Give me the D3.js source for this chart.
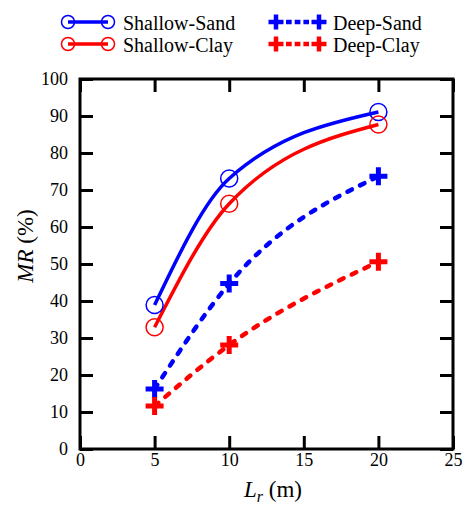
<!DOCTYPE html>
<html>
<head>
<meta charset="utf-8">
<script src="https://cdn.jsdelivr.net/npm/d3@7"></script>
<style>
  html, body { margin: 0; padding: 0; background: #fff; }
  svg { display: block; }
</style>
</head>
<body>
<svg id="chart" width="467" height="507"></svg>
<script>
// Lr (m) at which MR was evaluated
const lengths = [5, 10, 20];

// MR (%) per case
const shallowSand = [38.9, 73.1, 91.1];
const shallowClay = [32.9, 66.3, 87.7];
const deepSand = [16.2, 44.7, 73.7];
const deepClay = [11.6, 28.1, 50.6];

const seriesNames = ["Shallow-Sand", "Shallow-Clay", "Deep-Sand", "Deep-Clay"];

// Axis ticks
const xTicks = [0, 5, 10, 15, 20, 25];
const yTicks = [0, 10, 20, 30, 40, 50, 60, 70, 80, 90, 100];

const FONT = "'Liberation Serif', 'Times New Roman', Times, 'DejaVu Serif', serif";

const series = [
  { name: seriesNames[0], values: shallowSand, color: "#0000ff", marker: "circle", dashed: false },
  { name: seriesNames[1], values: shallowClay, color: "#ff0000", marker: "circle", dashed: false },
  { name: seriesNames[2], values: deepSand, color: "#0000ff", marker: "plus", dashed: true },
  { name: seriesNames[3], values: deepClay, color: "#ff0000", marker: "plus", dashed: true }
];

const svg = d3.select("#chart");
const plot = { left: 80, right: 453, top: 79, bottom: 449 };

const x = d3.scaleLinear().domain([0, 25]).range([plot.left, plot.right]);
const y = d3.scaleLinear().domain([0, 100]).range([plot.bottom, plot.top]);

const tickLen = 13;
const axisW = 3;

// Bottom and left axes, ticks pointing inward
const xAxis = svg.append("g")
  .attr("transform", `translate(0,${plot.bottom})`)
  .call(d3.axisBottom(x).tickValues(xTicks).tickSize(-tickLen).tickFormat(d3.format("d")));
const yAxis = svg.append("g")
  .attr("transform", `translate(${plot.left},0)`)
  .call(d3.axisLeft(y).tickValues(yTicks).tickSize(-tickLen).tickPadding(12).tickFormat(d3.format("d")));
// Mirrored ticks on the top and right edges
const xTop = svg.append("g")
  .attr("transform", `translate(0,${plot.top})`)
  .call(d3.axisTop(x).tickValues(xTicks).tickSize(-tickLen).tickFormat(""));
const yRight = svg.append("g")
  .attr("transform", `translate(${plot.right},0)`)
  .call(d3.axisRight(y).tickValues(yTicks).tickSize(-tickLen).tickFormat(""));

[xAxis, yAxis, xTop, yRight].forEach(g => {
  g.attr("font-family", null);
  g.select(".domain").remove();
  g.selectAll(".tick line").attr("stroke", "#000").attr("stroke-width", axisW);
  g.selectAll(".tick text")
    .style("font-family", FONT).style("font-size", "18px").attr("fill", "#000");
});
xAxis.selectAll(".tick text").attr("y", 4).attr("dy", "0.71em");

// Plot frame
svg.append("rect")
  .attr("x", plot.left).attr("y", plot.top)
  .attr("width", plot.right - plot.left).attr("height", plot.bottom - plot.top)
  .attr("fill", "none").attr("stroke", "#000").attr("stroke-width", axisW);

// Axis titles
const xt = svg.append("text")
  .attr("x", 273).attr("y", 497)
  .attr("text-anchor", "middle")
  .style("font-family", FONT).style("font-size", "23px");
xt.append("tspan").attr("font-style", "italic").text("L");
xt.append("tspan").attr("font-style", "italic").style("font-size", "16px").attr("dy", 5).text("r");
xt.append("tspan").attr("dy", -5).text(" (m)");

const yt = svg.append("text")
  .attr("transform", `translate(33,246) rotate(-90)`)
  .attr("text-anchor", "middle")
  .style("font-family", FONT).style("font-size", "23px");
yt.append("tspan").attr("font-style", "italic").text("MR");
yt.append("tspan").text(" (%)");

// Smooth curves through the measured points
const line = d3.line()
  .x((d, i) => x(lengths[i]))
  .y(d => y(d))
  .curve(d3.curveMonotoneX);

function plusPath(cx, cy, s) {
  return `M${cx - s},${cy}H${cx + s}M${cx},${cy - s}V${cy + s}`;
}

series.forEach(s => {
  svg.append("path")
    .attr("d", line(s.values))
    .attr("fill", "none")
    .attr("stroke", s.color)
    .attr("stroke-width", s.dashed ? 4.5 : 3.5)
    .attr("stroke-dasharray", s.dashed ? "5,9" : null)
    .attr("stroke-linecap", s.dashed ? "round" : "butt");
});

series.forEach(s => {
  s.values.forEach((v, i) => {
    const cx = x(lengths[i]), cy = y(v);
    if (s.marker === "circle") {
      svg.append("circle").attr("cx", cx).attr("cy", cy).attr("r", 8.5)
        .attr("fill", "none").attr("stroke", s.color).attr("stroke-width", 1.5);
    } else {
      svg.append("path").attr("d", plusPath(cx, cy, 9))
        .attr("stroke", s.color).attr("stroke-width", 5).attr("fill", "none");
    }
  });
});

// Legend
const legendPos = [
  { x: 68, y: 22 },
  { x: 68, y: 44 },
  { x: 276, y: 22 },
  { x: 276, y: 44 }
];
series.forEach((s, k) => {
  const p = legendPos[k];
  const x2 = p.x + (s.marker === "circle" ? 40 : 43);
  if (s.dashed) {
    // three short dashes between the two plus symbols
    svg.append("line")
      .attr("x1", p.x + 10).attr("x2", x2 - 10).attr("y1", p.y).attr("y2", p.y)
      .attr("stroke", s.color).attr("stroke-width", 4.5)
      .attr("stroke-dasharray", "5.7,3");
  } else {
    svg.append("line")
      .attr("x1", p.x).attr("x2", x2).attr("y1", p.y).attr("y2", p.y)
      .attr("stroke", s.color).attr("stroke-width", 3.5);
  }
  [p.x, x2].forEach(cx => {
    if (s.marker === "circle") {
      svg.append("circle").attr("cx", cx).attr("cy", p.y).attr("r", 6.5)
        .attr("fill", "none").attr("stroke", s.color).attr("stroke-width", 1.5);
    } else {
      svg.append("path").attr("d", plusPath(cx, p.y, 7.5))
        .attr("stroke", s.color).attr("stroke-width", 4.5).attr("fill", "none");
    }
  });
  svg.append("text")
    .attr("x", s.marker === "circle" ? 123 : 333)
    .attr("y", p.y + 7.5)
    .style("font-family", FONT).style("font-size", "20px")
    .text(s.name);
});
</script>
</body>
</html>
